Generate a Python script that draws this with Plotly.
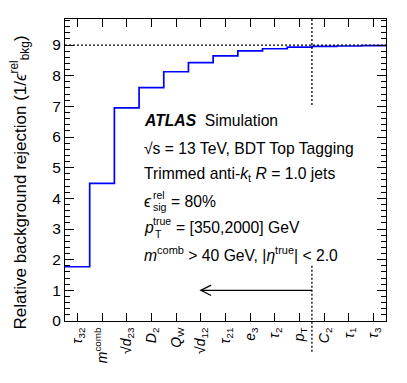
import plotly.graph_objects as go

# cumulative BDT input variables, left to right
variables = ["<i>τ</i><sub>32</sub>", "<i>m</i><sup>comb</sup>", "√<i>d</i><sub>23</sub>",
             "<i>D</i><sub>2</sub>", "<i>Q</i><sub>W</sub>", "√<i>d</i><sub>12</sub>",
             "<i>τ</i><sub>21</sub>", "<i>e</i><sub>3</sub>", "<i>τ</i><sub>2</sub>",
             "<i>p</i><sub>T</sub>", "<i>C</i><sub>2</sub>", "<i>τ</i><sub>1</sub>",
             "<i>τ</i><sub>3</sub>"]
rejection = [1.77, 4.49, 6.95, 7.61, 8.13, 8.43, 8.65, 8.81, 8.88, 8.93, 8.96, 8.97, 8.98]
full_rejection = 9.0
cut_after = 9.5          # boundary after p_T
arrow_to = 5.0
arrow_y = 1.0

# page body adds an 8px offset, so the figure is shifted back by that much
OFF = 8
W, H = 407, 383
L, R, T, B = 65 - OFF, 21 + OFF, 19 - OFF, 62 + OFF
pw, ph = W - L - R, H - T - B
ymax = 9.85
xmin, xmax = -0.5, len(variables) - 0.5


def px(x):
    return (x - 65) / pw


def py(y):
    return (321 - y) / ph


def xpaper(v):
    return (v - xmin) / (xmax - xmin)


edges = [i - 0.5 for i in range(len(variables) + 1)]
fig = go.Figure()
fig.add_trace(go.Scatter(x=edges, y=rejection + [rejection[-1]], mode="lines",
                         line=dict(color="#0000ff", width=1.7, shape="hv"),
                         showlegend=False, hoverinfo="skip"))

ax_common = dict(showline=True, linecolor="black", linewidth=1, mirror="ticks",
                 ticks="inside", tickcolor="black", showgrid=False, zeroline=False,
                 automargin=False)
fig.update_xaxes(range=[xmin, xmax], tickmode="array", tickvals=list(range(len(variables))),
                 ticktext=variables, tickangle=-90, ticklen=8,
                 tickfont=dict(size=14, color="black"), **ax_common)
fig.update_yaxes(range=[0, ymax], dtick=1, ticklen=9, tickfont=dict(size=15.5, color="black"),
                 minor=dict(dtick=0.2, ticks="inside", ticklen=5, tickcolor="black"),
                 **ax_common)

dot = dict(color="black", width=1.3, dash="2px,2px")
fig.add_shape(type="line", xref="paper", yref="y", x0=0, x1=1,
              y0=full_rejection, y1=full_rejection, line=dot)
fig.add_shape(type="line", xref="paper", yref="paper", x0=xpaper(cut_after), x1=xpaper(cut_after),
              y0=1, y1=7.0 / ymax, line=dot)
fig.add_shape(type="line", xref="paper", yref="paper", x0=xpaper(cut_after), x1=xpaper(cut_after),
              y0=1.8 / ymax, y1=-0.103, line=dot)

# arrow towards the reduced variable set
fig.add_shape(type="line", xref="x", yref="y", x0=cut_after, x1=arrow_to,
              y0=arrow_y, y1=arrow_y, line=dict(color="black", width=1.2))
hx, hy = 0.42, 0.17
fig.add_shape(type="path", xref="x", yref="y",
              path=f"M{arrow_to + hx},{arrow_y + hy} L{arrow_to},{arrow_y} L{arrow_to + hx},{arrow_y - hy}",
              line=dict(color="black", width=1.2))

F = "Liberation Sans, Arial, sans-serif"
FS = 15.7


def txt(x, y, s, size=FS):
    fig.add_annotation(x=px(x), y=py(y), xref="paper", yref="paper", text=s,
                       showarrow=False, xanchor="left", yanchor="middle",
                       font=dict(size=size, color="black", family=F))


txt(142, 121, "<b><i>ATLAS</i></b>  Simulation")
txt(142, 148, "√s = 13 TeV, BDT Top Tagging")
txt(142, 174, "Trimmed anti-<i>k</i><sub>t</sub> <i>R</i> = 1.0 jets")
txt(142, 201, "<i>ϵ</i>")
txt(151, 195, "rel", 10.5)
txt(151, 207, "sig", 10.5)
txt(169, 201, "= 80%")
txt(142, 227, "<i>p</i>")
txt(151, 221, "true", 10.5)
txt(153, 234, "T", 10.5)
txt(174, 227, "= [350,2000] GeV")
txt(142, 254, "<i>m</i><sup>comb</sup> > 40 GeV, |<i>η</i><sup>true</sup>| < 2.0")

fig.add_annotation(x=px(5), y=py(183), xref="paper", yref="paper", textangle=-90,
                   xanchor="left", yanchor="middle",
                   text="Relative background rejection (1/<i>ϵ</i><sup>rel</sup><sub>bkg</sub>)",
                   showarrow=False, font=dict(size=17, color="black", family=F))

fig.update_layout(width=W, height=H, margin=dict(l=L, r=R, t=T, b=B),
                  plot_bgcolor="white", paper_bgcolor="white",
                  font=dict(family=F, color="black"))
fig.write_html("out.html")
